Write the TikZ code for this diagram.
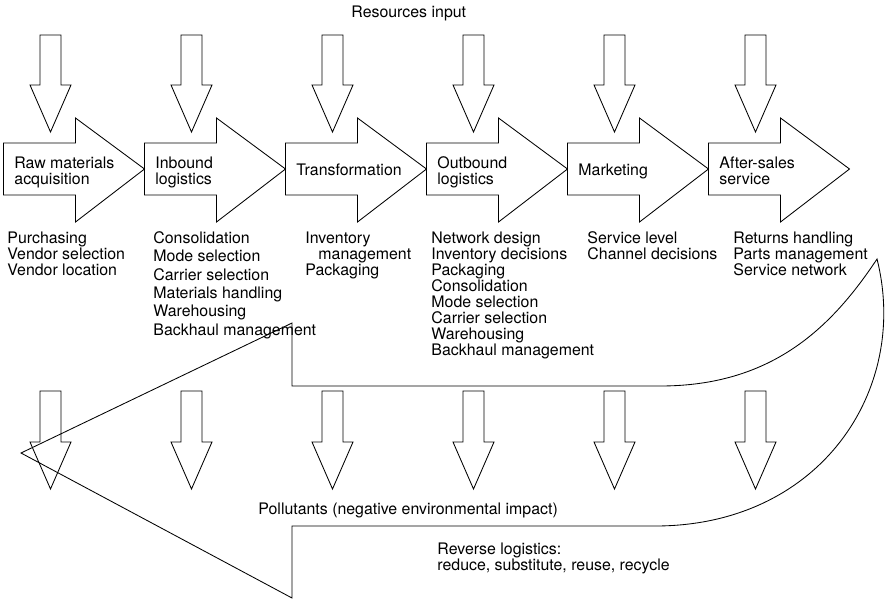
\documentclass[tikz,border=0pt]{standalone}
\usepackage{fontspec}
\setmainfont{TeX Gyre Heros}
\begin{document}
\begin{tikzpicture}[x=1pt,y=-1pt,line width=0.85pt,
  txt/.style={anchor=north west,inner sep=0pt,align=left,font=\fontsize{15.9}{16}\selectfont}]
\useasboundingbox (0,0) rectangle (885,600);

\node[txt] (resources) at (351,5.5) {Resources input};
\foreach \x in {50.5,191.5,332.5,473.5,614.5,755.5}{
\draw (\x-10.5,35) -- (\x+10.5,35) -- (\x+10.5,85) -- (\x+20.5,85) -- (\x,132) -- (\x-20.5,85) -- (\x-10.5,85) -- cycle;
\draw (\x-10.5,391) -- (\x+10.5,391) -- (\x+10.5,442) -- (\x+20.5,442) -- (\x,489) -- (\x-20.5,442) -- (\x-10.5,442) -- cycle;
}
\foreach \l in {3.5,144.5,285.5,426.5,567.5,708.5}
\draw (\l,143) -- (\l+72,143) -- (\l+72,118) -- (\l+141,169) -- (\l+72,222) -- (\l+72,195) -- (\l,195) -- cycle;

\node[txt] (raw) at (14,156.5) {Raw materials\\acquisition};
\node[txt] (inbound) at (155,156.5) {Inbound\\logistics};
\node[txt] (transform) at (296,163.5) {Transformation};
\node[txt] (outbound) at (437,156.5) {Outbound\\logistics};
\node[txt] (marketing) at (578,163.5) {Marketing};
\node[txt] (aftersales) at (719,156.5) {After-sales\\service};

\node[txt] (rawlist) at (7,231) {Purchasing\\Vendor selection\\Vendor location};
\node[txt,font=\fontsize{15.9}{18.4}\selectfont] (inlist) at (153,231) {Consolidation\\Mode selection\\Carrier selection\\Materials handling\\Warehousing\\Backhaul management};
\node[txt] (translist) at (305,231) {Inventory\\\hspace*{13pt}management\\Packaging};
\node[txt] (outlist) at (431,231) {Network design\\Inventory decisions\\Packaging\\Consolidation\\Mode selection\\Carrier selection\\Warehousing\\Backhaul management};
\node[txt] (marketlist) at (587,231) {Service level\\Channel decisions};
\node[txt] (servicelist) at (733,231) {Returns handling\\Parts management\\Service network};

\node[txt] (pollutants) at (258,502) {Pollutants (negative environmental impact)};
\node[txt] (reverse) at (437,542) {Reverse logistics:\\reduce, substitute, reuse, recycle};

\draw (877,259) .. controls (830,330) and (770,386) .. (660,386) -- (292,386) -- (292,323) -- (21,453) -- (292,598) -- (292,526) -- (655,526) .. controls (820,526) and (910,390) .. (877,259) -- cycle;
\end{tikzpicture}
\end{document}
